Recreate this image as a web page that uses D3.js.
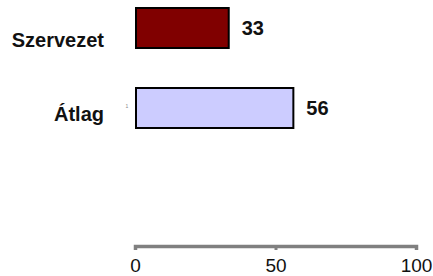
<!DOCTYPE html>
<html>
<head>
<meta charset="utf-8">
<script src="https://cdn.jsdelivr.net/npm/d3@7"></script>
<style>
  html, body { margin: 0; padding: 0; background: #fff; }
  svg { display: block; font-family: "Liberation Sans", Arial, sans-serif; }
</style>
</head>
<body>
<svg id="chart" width="433" height="276"></svg>
<script>
const categories = ["Szervezet", "Átlag"];
const values = [33, 56];
const colors = ["#800000", "#ccccff"];
const tickValues = [0, 50, 100];

const svg = d3.select("#chart");
const x = d3.scaleLinear().domain([0, 100]).range([135, 416]);
const y = d3.scaleBand().domain(categories).range([-12, 148]).paddingInner(0.5).paddingOuter(0.25);

// bars
svg.selectAll("rect.bar").data(categories).join("rect")
  .attr("class", "bar")
  .attr("x", x(0) + 1)
  .attr("y", d => y(d))
  .attr("width", (d, i) => x(values[i]) - x(0))
  .attr("height", y.bandwidth())
  .attr("fill", (d, i) => colors[i])
  .attr("stroke", "#000")
  .attr("stroke-width", 2);

// value labels
svg.selectAll("text.val").data(categories).join("text")
  .attr("class", "val")
  .attr("x", (d, i) => x(values[i]) + 14)
  .attr("y", d => y(d) + y.bandwidth() / 2 + 7)
  .attr("font-size", 20).attr("font-weight", "bold").attr("fill", "#111")
  .text((d, i) => values[i]);

// category labels
const labelDy = [19, 13];
svg.selectAll("text.cat").data(categories).join("text")
  .attr("class", "cat")
  .attr("x", 104)
  .attr("y", (d, i) => y(d) + y.bandwidth() / 2 + labelDy[i])
  .attr("text-anchor", "end")
  .attr("font-size", 20).attr("font-weight", "bold").attr("fill", "#111")
  .text(d => d);

// tiny marker
svg.append("text")
  .attr("x", 127).attr("y", 108)
  .attr("text-anchor", "middle")
  .attr("font-size", 5).attr("fill", "#888")
  .text("1");

// axis
const axis = d3.axisBottom(x).tickValues(tickValues).tickSize(4).tickPadding(9).tickSizeOuter(4);
const g = svg.append("g").attr("transform", "translate(0,246)").call(axis);
g.select(".domain").attr("stroke", "#808080").attr("stroke-width", 3.5);
g.selectAll(".tick line").attr("stroke", "#808080").attr("stroke-width", 3);
g.selectAll(".tick text").attr("font-size", 19).attr("fill", "#111")
  .attr("font-family", "'Liberation Sans', Arial, sans-serif");
</script>
</body>
</html>
